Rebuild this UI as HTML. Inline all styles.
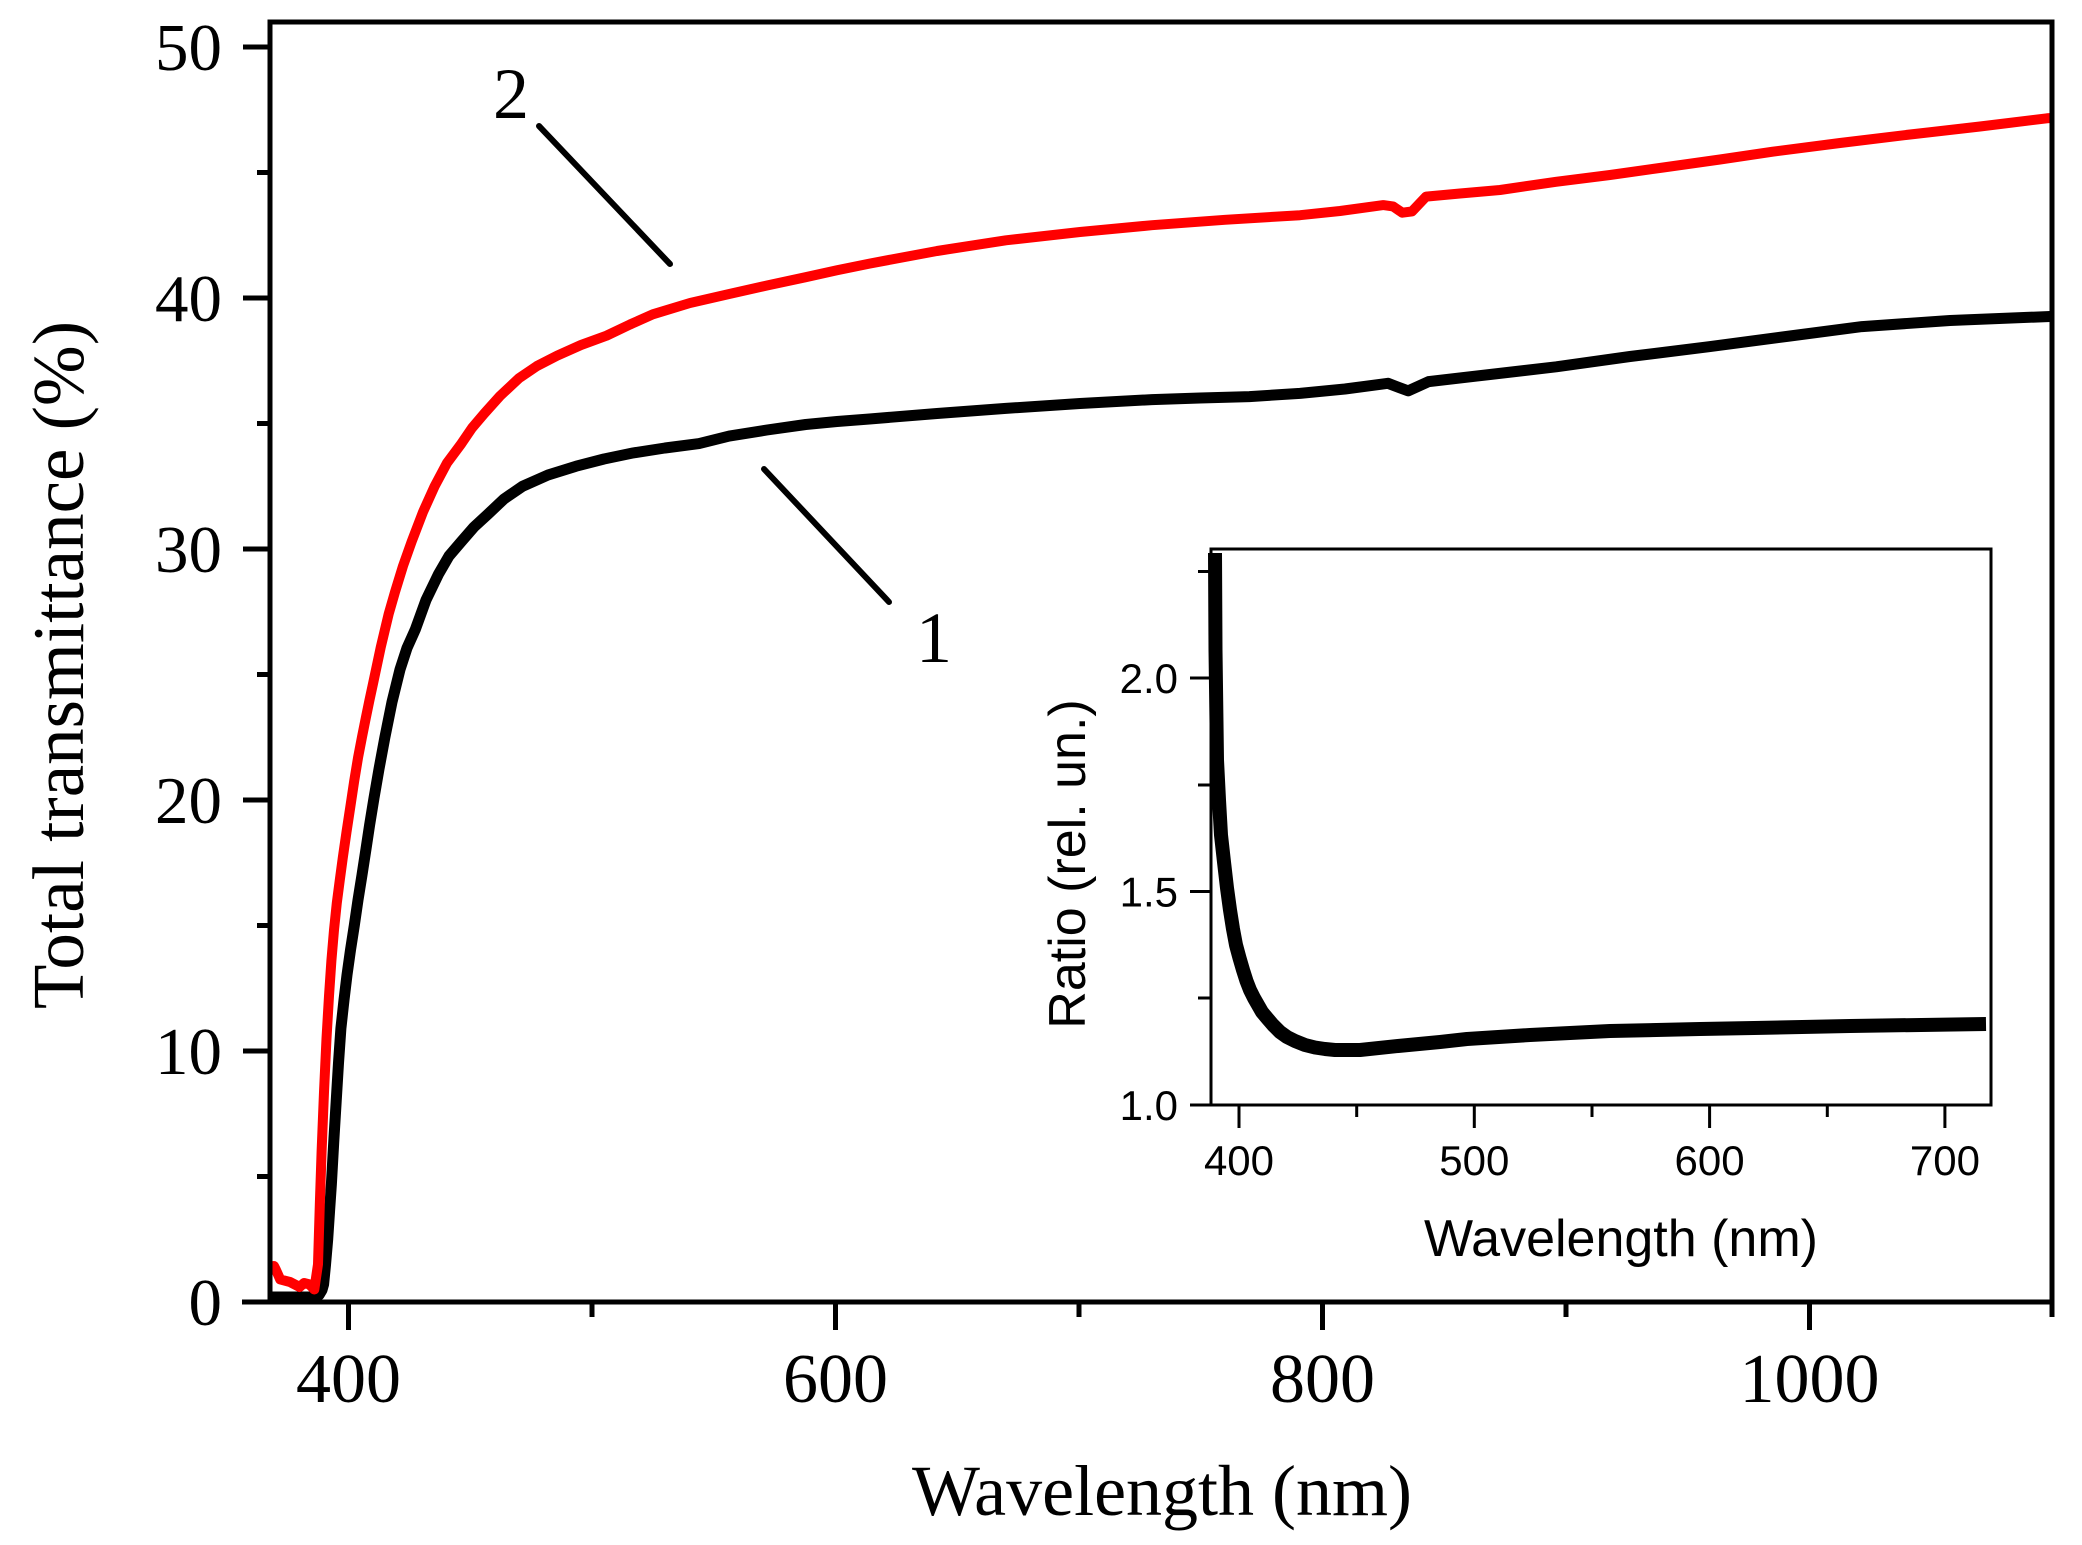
<!DOCTYPE html>
<html>
<head>
<meta charset="utf-8">
<style>
  html, body { margin: 0; padding: 0; background: #fff; }
  body { width: 2082px; height: 1545px; overflow: hidden; }
  svg { display: block; }
  .serif { font-family: "Liberation Serif", "Times New Roman", serif; fill: #000; }
  .sans { font-family: "Liberation Sans", Arial, sans-serif; fill: #000; }
</style>
</head>
<body>
<svg width="2082" height="1545" viewBox="0 0 2082 1545" xmlns="http://www.w3.org/2000/svg">
  <rect x="0" y="0" width="2082" height="1545" fill="#fff"/>
  <defs>
    <clipPath id="plotclip"><rect x="270" y="22" width="1782" height="1280"/></clipPath>
  </defs>

  <!-- Main curves -->
  <g clip-path="url(#plotclip)" fill="none" stroke-linejoin="round" stroke-linecap="round">
    <polyline stroke="#000" stroke-width="11" points="
      270.5,1297 314.3,1297 319,1295 322,1290 323.6,1284.4 325.5,1265 327.7,1239.3 329.5,1212 331.4,1184 333.8,1141 336.2,1101.2 338.5,1063 340.9,1028.4
      344,1000 347,975 350.5,950 354.3,925.5 358,900 362,875 366,849 369.6,825.1 374,798 379,769 384.9,737.3 392,702 400,669.5 407,648 415.4,629.3 426,600 438.5,574.1 449,556 461.4,541.5
      474,527 488.2,513.9 504,499 522.5,486.3 548,475 576.1,466.2 604,459 633.3,452.9 665,448 699.1,443.6 729.2,436.1 767,430 805.7,424.5
      837,421.5 869.5,419 937,413.5 1005.9,408.4 1080,403.5 1152,399.6 1200,398 1249.4,396.6 1300,393.4 1345,389 1388,383.3 1398,387.1
      1408.2,390.9 1428.6,381.6 1490,374.5 1556.2,366.8 1630,356.5 1709.1,346.7 1790,336 1862,326.6 1950,320.5 2050,316.5"/>
    <polyline stroke="#ff0000" stroke-width="10" points="
      274,1266 276,1270 280.2,1279.4 290,1282 299.7,1287 304,1283 309.4,1284.4 314.3,1289.5
      318,1264.3 319.8,1205 321.6,1151.4 324,1092 326.5,1038.5 329,996 331.4,960.6 334,930 336.8,903 339.8,880 342.8,857.7 346.5,832 350.3,807 354.2,781 358.1,757.3
      362,737 365.8,718 369.5,700 373.2,682.8 380.8,647 388.6,614.3 395,592 403,566 411.7,541.5 423,512 434.6,486.3 447,463 461.4,443.6 472,428
      484.3,413.5 500,396 518.9,378.3 537,366 557.1,355.7 581,345 606.5,335.7 630,324.5 652.8,314.3 690,303 729.2,294 767,285.5 805.7,277.2 837,270.2 869.5,263.6 937,251 1005.9,240.3 1080,232 1152,225.2
      1225,219.8 1300,215.2 1340,211 1383.3,205.1 1393,206.4 1402.3,212.7 1412,211.4 1426.1,196.6 1460,193.5 1500,190
      1556,181.8 1610,175 1663.2,167.5 1720,159.5 1772.7,151.7 1840,143 1906.8,134.9 1980,126.5 2047,118.3 2052,118"/>
  </g>

  <!-- Main frame -->
  <g stroke="#000" stroke-width="5" fill="none">
    <line x1="270" y1="19.5" x2="270" y2="1304.5"/>
    <line x1="242" y1="1302" x2="2054.5" y2="1302"/>
    <line x1="267.5" y1="22" x2="2054.5" y2="22"/>
    <line x1="2052" y1="19.5" x2="2052" y2="1304.5"/>
  </g>

  <!-- Y ticks -->
  <g stroke="#000" stroke-width="5">
    <line x1="243" y1="1302" x2="270" y2="1302"/>
    <line x1="243" y1="1051" x2="270" y2="1051"/>
    <line x1="243" y1="800" x2="270" y2="800"/>
    <line x1="243" y1="549" x2="270" y2="549"/>
    <line x1="243" y1="298" x2="270" y2="298"/>
    <line x1="243" y1="47" x2="270" y2="47"/>
    <line x1="257" y1="1176.5" x2="270" y2="1176.5"/>
    <line x1="257" y1="925.5" x2="270" y2="925.5"/>
    <line x1="257" y1="674.5" x2="270" y2="674.5"/>
    <line x1="257" y1="423.5" x2="270" y2="423.5"/>
    <line x1="257" y1="172.5" x2="270" y2="172.5"/>
  </g>
  <!-- X ticks -->
  <g stroke="#000" stroke-width="5">
    <line x1="348.5" y1="1302" x2="348.5" y2="1330"/>
    <line x1="835.5" y1="1302" x2="835.5" y2="1330"/>
    <line x1="1322.5" y1="1302" x2="1322.5" y2="1330"/>
    <line x1="1809.5" y1="1302" x2="1809.5" y2="1330"/>
    <line x1="592" y1="1302" x2="592" y2="1317"/>
    <line x1="1079" y1="1302" x2="1079" y2="1317"/>
    <line x1="1566" y1="1302" x2="1566" y2="1317"/>
    <line x1="2052" y1="1302" x2="2052" y2="1317"/>
  </g>

  <!-- Y tick labels -->
  <g class="serif" font-size="67" text-anchor="end">
    <text x="222" y="1325">0</text>
    <text x="222" y="1074">10</text>
    <text x="222" y="823">20</text>
    <text x="222" y="572">30</text>
    <text x="222" y="321">40</text>
    <text x="222" y="70">50</text>
  </g>
  <!-- X tick labels -->
  <g class="serif" font-size="70" text-anchor="middle">
    <text x="348.5" y="1402">400</text>
    <text x="835.5" y="1402">600</text>
    <text x="1322.5" y="1402">800</text>
    <text x="1809.5" y="1402">1000</text>
  </g>

  <!-- Axis titles -->
  <text class="serif" font-size="72" text-anchor="middle" x="1162" y="1515">Wavelength (nm)</text>
  <text class="serif" font-size="73" text-anchor="middle" transform="translate(83,665) rotate(-90)">Total transmittance (%)</text>

  <!-- Annotations -->
  <g stroke="#000" stroke-width="6" stroke-linecap="round">
    <line x1="539" y1="126" x2="670" y2="264"/>
    <line x1="764" y1="469" x2="889" y2="602"/>
  </g>
  <text class="serif" font-size="72" text-anchor="middle" x="511" y="118">2</text>
  <text class="serif" font-size="72" text-anchor="middle" x="934" y="662">1</text>

  <!-- Inset -->
  <rect x="1211" y="549" width="780" height="556" fill="#fff" stroke="#000" stroke-width="3"/>
  <g stroke="#000" stroke-width="3">
    <line x1="1190" y1="1105" x2="1211" y2="1105"/>
    <line x1="1190" y1="891.5" x2="1211" y2="891.5"/>
    <line x1="1190" y1="678" x2="1211" y2="678"/>
    <line x1="1198" y1="998" x2="1211" y2="998"/>
    <line x1="1198" y1="785" x2="1211" y2="785"/>
    <line x1="1198" y1="571.5" x2="1211" y2="571.5"/>
    <line x1="1239" y1="1105" x2="1239" y2="1128"/>
    <line x1="1474.3" y1="1105" x2="1474.3" y2="1128"/>
    <line x1="1709.6" y1="1105" x2="1709.6" y2="1128"/>
    <line x1="1944.9" y1="1105" x2="1944.9" y2="1128"/>
    <line x1="1356.7" y1="1105" x2="1356.7" y2="1117"/>
    <line x1="1592" y1="1105" x2="1592" y2="1117"/>
    <line x1="1827.3" y1="1105" x2="1827.3" y2="1117"/>
  </g>
  <polyline fill="none" stroke="#000" stroke-width="14" stroke-linejoin="round" points="
    1215,553 1215.5,650 1217,760 1219,800 1221,835 1224,862 1227,888 1230,910 1233,929 1236,945 1239.5,958 1243,970 1246.5,981 1250,990
    1254,998 1258,1005 1262,1012 1267,1018 1273,1025 1280,1032 1287,1037 1295,1041 1305,1045 1315,1047.5 1325,1049 1335,1050 1360,1050 1398,1046
    1440,1042 1467,1039 1530,1035 1610,1031 1700,1029 1754,1028 1850,1026 1986,1024"/>
  <g class="sans" font-size="42" text-anchor="end">
    <text x="1178" y="1120">1.0</text>
    <text x="1178" y="906.5">1.5</text>
    <text x="1178" y="693">2.0</text>
  </g>
  <g class="sans" font-size="42" text-anchor="middle">
    <text x="1239" y="1175">400</text>
    <text x="1474.3" y="1175">500</text>
    <text x="1709.6" y="1175">600</text>
    <text x="1944.9" y="1175">700</text>
  </g>
  <text class="sans" font-size="52" text-anchor="middle" x="1621" y="1256">Wavelength (nm)</text>
  <text class="sans" font-size="52" text-anchor="middle" transform="translate(1085,864) rotate(-90)">Ratio (rel. un.)</text>
</svg>
</body>
</html>
